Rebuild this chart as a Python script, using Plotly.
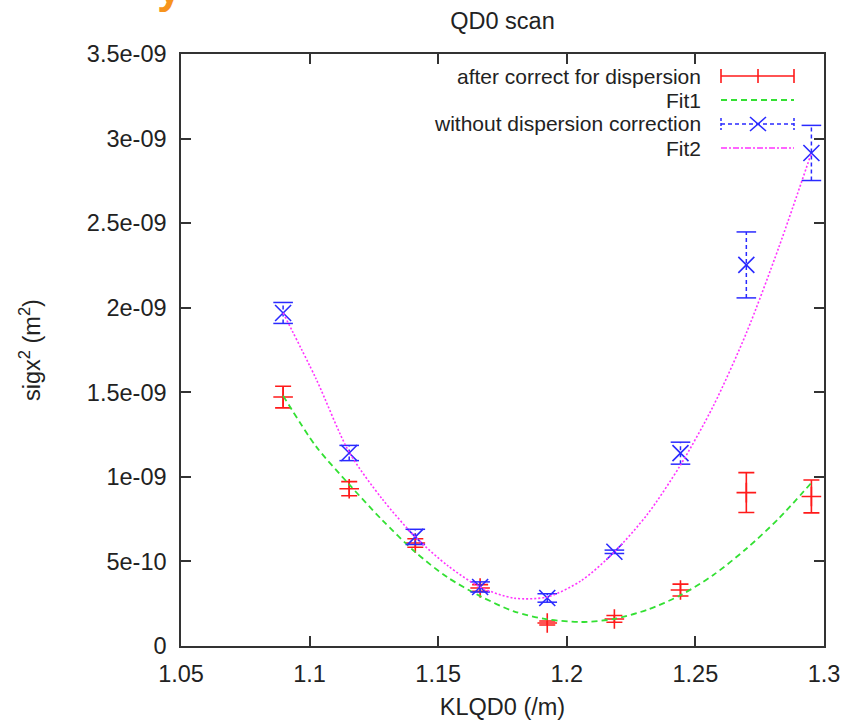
import plotly.graph_objects as go

# ---------------- data ----------------
k_vals = [1.0897, 1.1154, 1.1411, 1.1663, 1.1924, 1.2185, 1.2442, 1.2698, 1.2951]

corr_vals = [1.472e-9, 0.930e-9, 0.609e-9, 0.343e-9, 0.136e-9, 0.160e-9, 0.331e-9, 0.907e-9, 0.884e-9]
corr_err = [0.064e-9, 0.042e-9, 0.025e-9, 0.020e-9, 0.012e-9, 0.020e-9, 0.035e-9, 0.118e-9, 0.097e-9]

nocorr_vals = [1.969e-9, 1.141e-9, 0.645e-9, 0.349e-9, 0.284e-9, 0.557e-9, 1.140e-9, 2.253e-9, 2.915e-9]
nocorr_err = [0.062e-9, 0.045e-9, 0.045e-9, 0.030e-9, 0.025e-9, 0.010e-9, 0.065e-9, 0.195e-9, 0.163e-9]

fit1_k = [1.0897, 1.1025, 1.1154, 1.1282, 1.1411, 1.1537, 1.1663, 1.1794, 1.1924,
          1.2055, 1.2185, 1.2314, 1.2442, 1.2570, 1.2698, 1.2825, 1.2951]
fit1_vals = [1.480e-9, 1.180e-9, 0.955e-9, 0.745e-9, 0.555e-9, 0.405e-9, 0.295e-9, 0.205e-9, 0.158e-9,
             0.142e-9, 0.160e-9, 0.215e-9, 0.300e-9, 0.420e-9, 0.575e-9, 0.755e-9, 0.965e-9]

fit2_k = [1.0897, 1.1025, 1.1154, 1.1282, 1.1411, 1.1537, 1.1663, 1.1794, 1.1924,
          1.2055, 1.2185, 1.2314, 1.2442, 1.2570, 1.2698, 1.2825, 1.2951]
fit2_vals = [1.969e-9, 1.580e-9, 1.145e-9, 0.870e-9, 0.645e-9, 0.475e-9, 0.349e-9, 0.283e-9, 0.290e-9,
             0.385e-9, 0.556e-9, 0.780e-9, 1.070e-9, 1.420e-9, 1.850e-9, 2.360e-9, 2.915e-9]

x_tickvals = [1.05, 1.1, 1.15, 1.2, 1.25, 1.3]
x_ticktext = ["1.05", "1.1", "1.15", "1.2", "1.25", "1.3"]
y_tickvals = [0, 0.5e-9, 1e-9, 1.5e-9, 2e-9, 2.5e-9, 3e-9, 3.5e-9]
y_ticktext = ["0", "5e-10", "1e-09", "1.5e-09", "2e-09", "2.5e-09", "3e-09", "3.5e-09"]

legend_labels = ["after correct for dispersion", "Fit1", "without dispersion correction", "Fit2"]

# ---------------- styling ----------------
RED = "#ff1a1a"
GREEN = "#33e033"
BLUE = "#2a2aff"
MAGENTA = "#ff33ff"
TXT = "#222222"
FONT = "Liberation Sans, Arial, sans-serif"
FS = 23.5
LEG_FS = 21

W, H = 844, 720
L, R, T, B = 181, 824, 54, 646


def px(x):
    return (x - L) / (R - L)


def py(y):
    return (B - y) / (B - T)


fig = go.Figure()

# after correction: red + with solid error bars
fig.add_trace(go.Scatter(
    x=k_vals, y=corr_vals, mode="markers",
    marker=dict(symbol="cross-thin", size=14, color=RED, line=dict(color=RED, width=1.6)),
    error_y=dict(type="data", array=corr_err, visible=True, color=RED, thickness=1.6, width=8),
    showlegend=False,
))

# Fit1 green dashed
fig.add_trace(go.Scatter(
    x=fit1_k, y=fit1_vals, mode="lines",
    line=dict(color=GREEN, width=1.8, dash="6px,4px", shape="spline", smoothing=0.8),
    showlegend=False,
))

# without correction: blue dashed error bars (vertical dashed segments with caps)
eb_x, eb_y = [], []
for xv, yv, ev in zip(k_vals, nocorr_vals, nocorr_err):
    eb_x += [xv, xv, None]
    eb_y += [yv - ev, yv + ev, None]
fig.add_trace(go.Scatter(
    x=eb_x, y=eb_y, mode="lines+markers",
    line=dict(color=BLUE, width=1.5, dash="4px,3px"),
    marker=dict(symbol="line-ew", size=14, color=BLUE, line=dict(color=BLUE, width=1.5)),
    showlegend=False,
))
fig.add_trace(go.Scatter(
    x=k_vals, y=nocorr_vals, mode="markers",
    marker=dict(symbol="x-thin", size=16, color=BLUE, line=dict(color=BLUE, width=1.6)),
    showlegend=False,
))

# Fit2 magenta dotted
fig.add_trace(go.Scatter(
    x=fit2_k, y=fit2_vals, mode="lines",
    line=dict(color=MAGENTA, width=1.6, dash="2px,2px", shape="spline", smoothing=0.8),
    showlegend=False,
))

# ---------------- gnuplot-style legend (text left, sample right) ----------------
rows_y = [76, 100, 124, 148]
text_right = 703
s0, s1, sc = 721, 794, 758
shapes = []
annotations = []
for lab, ry in zip(legend_labels, rows_y):
    annotations.append(dict(
        xref="paper", yref="paper", x=px(text_right), y=py(ry),
        xanchor="right", yanchor="middle", text=lab, showarrow=False,
        font=dict(family=FONT, size=LEG_FS, color=TXT),
    ))


def seg(x0, y0, x1, y1, color, width=1.6, dash="solid"):
    shapes.append(dict(type="line", xref="paper", yref="paper",
                       x0=px(x0), y0=py(y0), x1=px(x1), y1=py(y1),
                       line=dict(color=color, width=width, dash=dash)))


# row 1: red error bar sample
seg(s0, rows_y[0], s1, rows_y[0], RED)
for xx in (s0, sc, s1):
    seg(xx, rows_y[0] - 7, xx, rows_y[0] + 7, RED)
# row 2: green dashed
seg(s0, rows_y[1], s1, rows_y[1], GREEN, 1.8, "6px,4px")
# row 3: blue dashed with X
seg(s0, rows_y[2], s1, rows_y[2], BLUE, 1.5, "4px,3px")
for xx in (s0, s1):
    seg(xx, rows_y[2] - 6, xx, rows_y[2] + 6, BLUE, 1.5, "3px,2px")
seg(sc - 8, rows_y[2] - 7, sc + 8, rows_y[2] + 7, BLUE)
seg(sc - 8, rows_y[2] + 7, sc + 8, rows_y[2] - 7, BLUE)
# row 4: magenta dash-dot
seg(s0, rows_y[3], s1, rows_y[3], MAGENTA, 1.6, "6px,2px,2px,2px")

# cropped orange heading glyph at the very top-left
annotations.append(dict(
    xref="paper", yref="paper", x=px(169), y=py(-13),
    xanchor="center", yanchor="middle", text="<b>y</b>", showarrow=False,
    font=dict(family="Noto Sans, sans-serif", size=40, color="#f7941d"),
))

axis_common = dict(
    showline=True, linecolor="#333333", linewidth=1.5, mirror="ticks",
    ticks="inside", ticklen=10, tickwidth=1.5, tickcolor="#333333",
    showgrid=False, zeroline=False, automargin=False,
    tickfont=dict(family=FONT, size=FS, color=TXT),
)

fig.update_layout(
    width=W, height=H,
    margin=dict(l=L, r=W - R, t=T, b=H - B),
    paper_bgcolor="white", plot_bgcolor="white",
    font=dict(family=FONT, size=FS, color=TXT),
    title=dict(text="QD0 scan", x=0.5, xref="paper", xanchor="center",
               y=1 - 21 / H, yref="container", yanchor="middle",
               font=dict(family=FONT, size=FS, color=TXT)),
    xaxis=dict(range=[1.05, 1.3], tickvals=x_tickvals, ticktext=x_ticktext,
               title=dict(text="KLQD0 (/m)", standoff=20,
                          font=dict(family=FONT, size=FS, color=TXT)),
               ticklabelstandoff=6, **axis_common),
    yaxis=dict(range=[0, 3.5e-9], tickvals=y_tickvals, ticktext=y_ticktext,
               title=dict(text="sigx<sup>2</sup> (m<sup>2</sup>)", standoff=40,
                          font=dict(family=FONT, size=FS, color=TXT)),
               ticklabelstandoff=8, **axis_common),
    shapes=shapes,
    annotations=annotations,
    showlegend=False,
)

fig.write_html("out.html")
